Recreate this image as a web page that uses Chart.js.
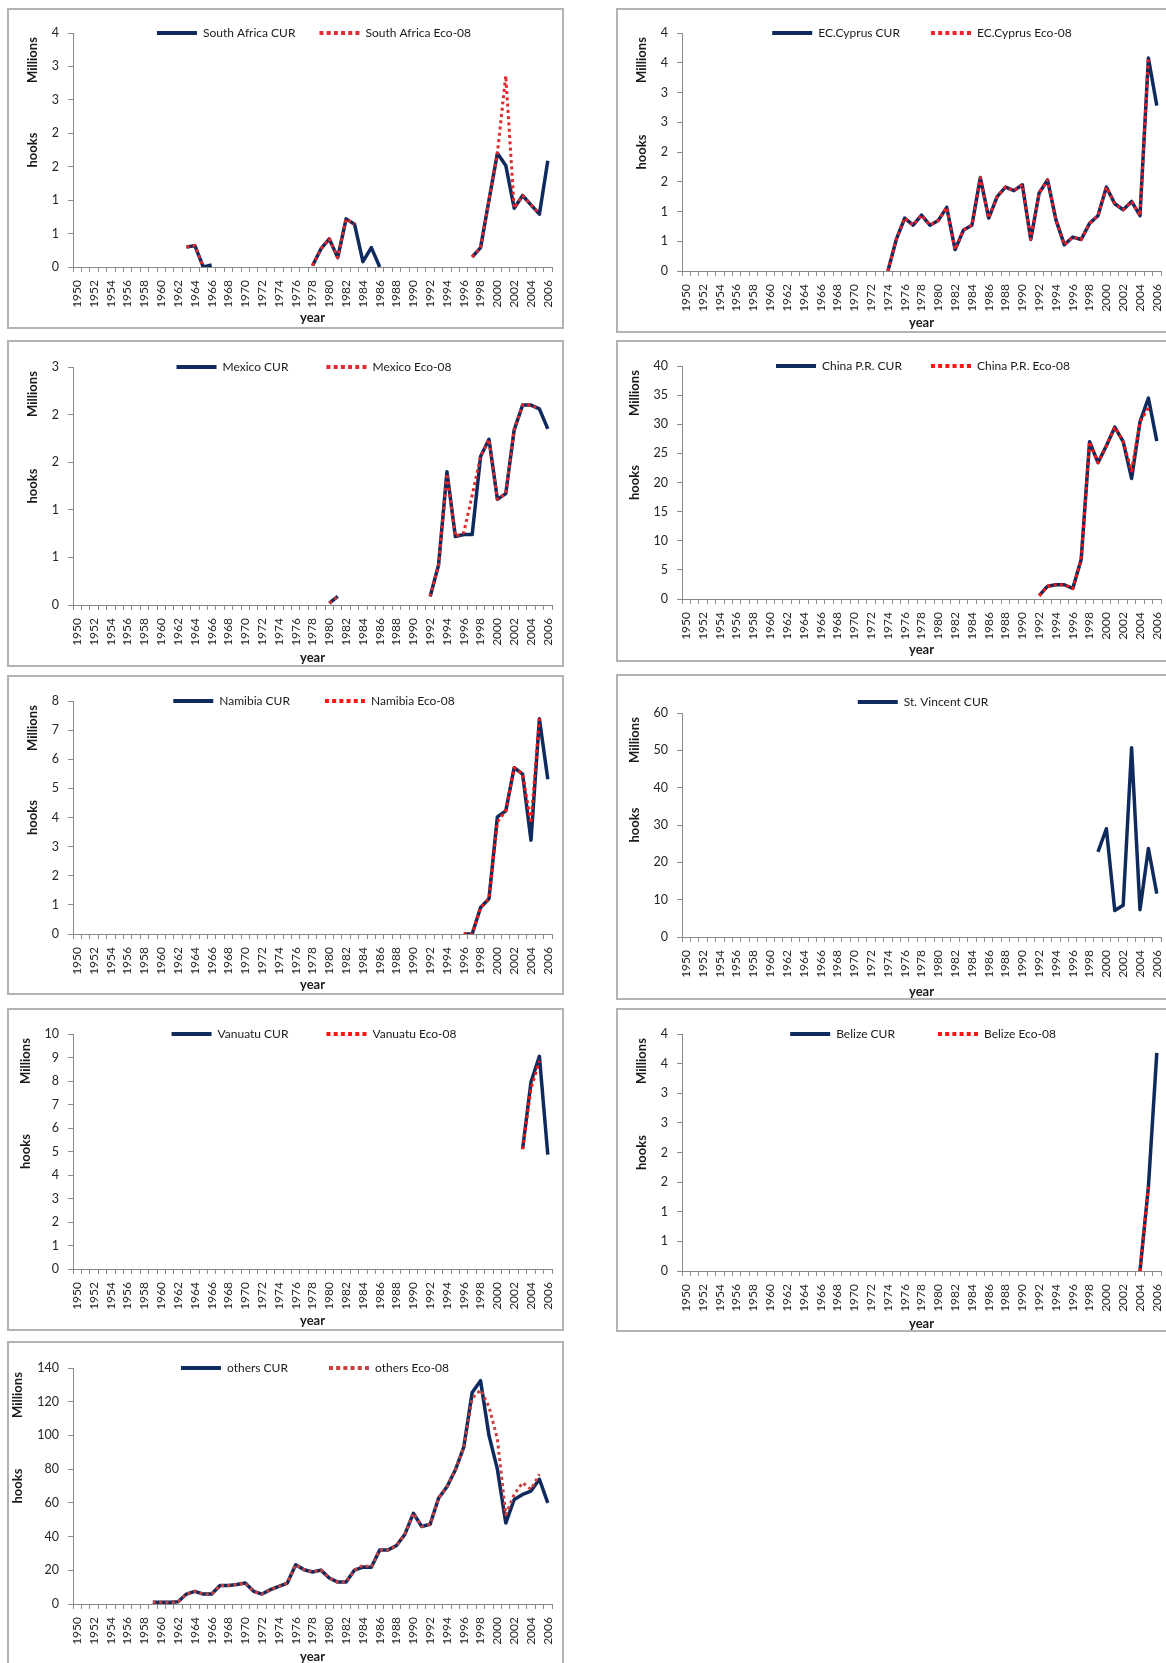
<!DOCTYPE html>
<html>
<head>
<meta charset="utf-8">
<script src="https://cdn.jsdelivr.net/npm/chart.js@4.4.1/dist/chart.umd.min.js"></script>
<style>
html,body{margin:0;padding:0;background:#fff;width:1166px;height:1663px;overflow:hidden;position:relative;}
.panel{position:absolute;background:#fff;}
.panel canvas{position:absolute;left:0;top:0;}
.frame{position:absolute;left:0;top:0;right:0;bottom:0;border:2px solid #B3B3B3;box-sizing:border-box;pointer-events:none;}
</style>
</head>
<body>
<script>
// ---------------- DATA (values in millions of hooks) ----------------
const years = [1950,1951,1952,1953,1954,1955,1956,1957,1958,1959,1960,1961,1962,1963,1964,1965,1966,1967,1968,1969,
  1970,1971,1972,1973,1974,1975,1976,1977,1978,1979,1980,1981,1982,1983,1984,1985,1986,1987,1988,1989,
  1990,1991,1992,1993,1994,1995,1996,1997,1998,1999,2000,2001,2002,2003,2004,2005,2006];

// South Africa (first value = 1963)
const southAfricaStart = 1963;
const southAfricaCUR = [0.30,0.32,0.00,0.03, null,null,null,null,null,null,null,null,null,null,null,
  0.02,0.27,0.42,0.14,0.72,0.64,0.08,0.29,0.00, null,null,null,null,null,null,null,null,null,null,
  0.15,0.29,1.00,1.70,1.52,0.88,1.07,0.93,0.79,1.59];
const southAfricaEco = [0.30,0.32,0.00, null,null,null,null,null,null,null,null,null,null,null,null,
  0.02,0.27,0.42,0.14,0.72,0.64, null,null,null,null,null,null,null,null,null,null,null,null,null,
  0.15,0.29,1.00,1.70,2.86,0.88,1.07,0.93,0.79];

// EC.Cyprus (first value = 1974)
const cyprusStart = 1974;
const cyprusCUR = [0.00,0.53,0.89,0.77,0.94,0.77,0.85,1.07,0.36,0.69,0.77,1.57,0.89,1.25,1.41,1.35,1.45,
  0.53,1.31,1.53,0.86,0.44,0.57,0.53,0.80,0.93,1.41,1.13,1.03,1.17,0.93,3.58,2.78];
const cyprusEco = [0.00,0.53,0.89,0.77,0.94,0.77,0.85,1.07,0.36,0.69,0.77,1.57,0.89,1.25,1.41,1.35,1.45,
  0.53,1.31,1.53,0.86,0.44,0.57,0.53,0.80,0.93,1.41,1.13,1.03,1.17,0.93,3.58];

// Mexico (first value = 1980)
const mexicoStart = 1980;
const mexicoCUR = [0.02,0.09, null,null,null,null,null,null,null,null,null,null,
  0.09,0.42,1.40,0.72,0.74,0.74,1.56,1.74,1.11,1.17,1.84,2.10,2.10,2.06,1.85];
const mexicoEco = [0.02,0.09, null,null,null,null,null,null,null,null,null,null,
  0.09,0.42,1.38,0.72,0.76,1.15,1.56,1.74,1.11,1.17,1.84,2.10,2.10,2.06];

// China P.R. (first value = 1992)
const chinaStart = 1992;
const chinaCUR = [0.57,2.2,2.45,2.45,1.8,6.8,27.0,23.4,26.3,29.5,27.0,20.7,30.4,34.5,27.1];
const chinaEco = [0.57,2.2,2.45,2.45,1.8,6.8,27.0,23.4,26.3,29.5,27.0,22.0,30.4,32.8];

// Namibia (first value = 1996)
const namibiaStart = 1996;
const namibiaCUR = [0.00,0.00,0.91,1.21,4.02,4.23,5.71,5.49,3.22,7.39,5.31];
const namibiaEco = [0.00,0.00,0.91,1.21,3.85,4.23,5.71,5.49,3.80,7.40];

// St. Vincent (first value = 1999)
const stVincentStart = 1999;
const stVincentCUR = [22.8,29.0,7.1,8.5,50.7,7.3,23.7,11.6];

// Vanuatu (first value = 2003)
const vanuatuStart = 2003;
const vanuatuCUR = [5.10,7.96,9.05,4.87];
const vanuatuEco = [5.10,7.70,8.85];

// Belize (first value = 2004)
const belizeStart = 2004;
const belizeCUR = [0.00,1.42,3.68];
const belizeEco = [0.00,1.42];

// others (first value = 1959)
const othersStart = 1959;
const othersCUR = [1.0,1.0,1.0,1.3,5.9,7.5,5.9,5.9,11.0,11.0,11.6,12.4,7.5,5.9,8.5,10.5,12.4,
  23.3,20.3,19.0,20.1,15.4,13.0,13.0,20.1,21.9,21.8,32.1,32.1,34.7,41.4,53.8,46.0,47.3,62.7,69.6,79.5,
  93.0,125.5,132.5,100.0,80.0,48.0,62.0,65.0,67.0,74.0,60.0];
const othersEco = [1.0,1.0,1.0,1.3,5.9,7.5,5.9,5.9,11.0,11.0,11.6,12.4,7.5,5.9,8.5,10.5,12.4,
  23.3,20.3,19.0,20.1,15.4,13.0,13.0,20.1,23.0,21.8,32.1,32.1,34.7,41.4,53.8,46.0,47.3,62.7,69.6,79.5,
  93.0,122.0,127.0,117.0,98.0,53.0,65.0,72.0,68.0,77.0];

// y-axis ranges (millions)
const yMax = { sa: 3.5, cy: 4, mx: 2.5, cn: 40, na: 8, sv: 60, va: 10, bz: 4, ot: 140 };
const yStep = { sa: 0.5, cy: 0.5, mx: 0.5, cn: 5, na: 1, sv: 10, va: 1, bz: 0.5, ot: 20 };

// ---------------- helpers ----------------
function alignSeries(start, values) {
  const out = years.map(() => null);
  const off = years.indexOf(start);
  values.forEach((v, i) => { out[off + i] = v; });
  return out;
}

const NAVY = '#0F2A5C';
const FONT = 'Lato, "Open Sans", sans-serif';

const panelDecor = {
  id: 'panelDecor',
  beforeUpdate(chart) {
    const lg = chart.legend;
    if (lg && !lg._forcedRow) {
      lg.isHorizontal = function () { return true; };
      lg._forcedRow = true;
    }
  },
  afterLayout(chart, args, o) {
    const lg = chart.legend;
    if (!lg) return;
    const w = lg.right - lg.left, h = lg.bottom - lg.top;
    const pad = lg.options.labels.padding;
    const fs = lg.options.labels.font.size;
    lg.left = o.legendX - w / 2; lg.right = o.legendX + w / 2;
    lg.top = o.legendY - pad - fs / 2; lg.bottom = lg.top + h;
  },
  afterDraw(chart, args, o) {
    const ctx = chart.ctx, a = chart.chartArea, ys = chart.scales.y;
    ctx.save();
    ctx.font = '12.5px ' + FONT;
    let mw = 0;
    ys.ticks.forEach(t => { mw = Math.max(mw, ctx.measureText(String(Math.round(t.value))).width); });
    const x = a.left - 5 - 9 - mw - 19;
    ctx.font = 'bold 13px ' + FONT;
    ctx.fillStyle = '#1a1a1a';
    ctx.textAlign = 'center';
    ctx.textBaseline = 'middle';
    [[o.unit, a.top + 27], [o.title, (a.top + a.bottom) / 2]].forEach(([txt, y]) => {
      ctx.save(); ctx.translate(x, y); ctx.rotate(-Math.PI / 2); ctx.fillText(txt, 0, 0); ctx.restore();
    });
    ctx.restore();
  }
};

function legendLabels(chart) {
  const items = Chart.defaults.plugins.legend.labels.generateLabels(chart);
  items.forEach(it => {
    const isEco = /Eco-08$/.test(it.text);
    it.lineWidth = 4;
    it.lineDash = isEco ? [4, 3.2] : [];
    it.lineCap = 'butt';
  });
  return items;
}

// ---------------- panels ----------------
// box: [left, top, width, height]; plot: [left, top, right, bottom] (page px)
const panels = [
  { key: 'sa', box: [7, 8, 557, 321], plot: [73, 33, 552, 267], legendX: 314, legendY: 33, yearY: 318, gap: 24,
    series: [['South Africa CUR', southAfricaStart, southAfricaCUR, null], ['South Africa Eco-08', southAfricaStart, southAfricaEco, '#E02A2E']] },
  { key: 'cy', box: [616, 8, 557, 325], plot: [682, 33, 1161, 271], legendX: 922, legendY: 33, yearY: 323, gap: 31,
    series: [['EC.Cyprus CUR', cyprusStart, cyprusCUR, null], ['EC.Cyprus Eco-08', cyprusStart, cyprusEco, '#F0202A']] },
  { key: 'mx', box: [7, 340, 557, 327], plot: [73, 367, 552, 605], legendX: 314, legendY: 367, yearY: 658, gap: 38,
    series: [['Mexico CUR', mexicoStart, mexicoCUR, null], ['Mexico Eco-08', mexicoStart, mexicoEco, '#E02A2E']] },
  { key: 'cn', box: [616, 340, 557, 322], plot: [682, 366, 1161, 599], legendX: 923, legendY: 366, yearY: 650, gap: 29,
    series: [['China P.R. CUR', chinaStart, chinaCUR, null], ['China P.R. Eco-08', chinaStart, chinaEco, '#FF1414']] },
  { key: 'na', box: [7, 675, 557, 320], plot: [73, 701, 552, 934], legendX: 314, legendY: 701, yearY: 985, gap: 35,
    series: [['Namibia CUR', namibiaStart, namibiaCUR, null], ['Namibia Eco-08', namibiaStart, namibiaEco, '#FF1414']] },
  { key: 'sv', box: [616, 674, 557, 326], plot: [682, 713, 1161, 937], legendX: 923, legendY: 702, yearY: 992, gap: 30,
    series: [['St. Vincent CUR', stVincentStart, stVincentCUR, null]] },
  { key: 'va', box: [7, 1008, 557, 323], plot: [73, 1034, 552, 1269], legendX: 314, legendY: 1034, yearY: 1321, gap: 38,
    series: [['Vanuatu CUR', vanuatuStart, vanuatuCUR, null], ['Vanuatu Eco-08', vanuatuStart, vanuatuEco, '#FF1414']] },
  { key: 'bz', box: [616, 1008, 557, 324], plot: [682, 1034, 1161, 1271], legendX: 923, legendY: 1034, yearY: 1324, gap: 43,
    series: [['Belize CUR', belizeStart, belizeCUR, null], ['Belize Eco-08', belizeStart, belizeEco, '#FF1414']] },
  { key: 'ot', box: [7, 1341, 557, 327], plot: [73, 1368, 552, 1604], legendX: 315, legendY: 1368, yearY: 1657, gap: 41,
    series: [['others CUR', othersStart, othersCUR, null], ['others Eco-08', othersStart, othersEco, '#C8403F']] }
];

function build(p) {
  const [L, T, W, H] = p.box;
  const [PL, PT, PR, PB] = p.plot;
  const div = document.createElement('div');
  div.className = 'panel';
  div.style.left = L + 'px'; div.style.top = T + 'px';
  div.style.width = W + 'px'; div.style.height = H + 'px';
  const cv = document.createElement('canvas');
  cv.width = W; cv.height = H;
  cv.style.width = W + 'px'; cv.style.height = H + 'px';
  div.appendChild(cv);
  const fr = document.createElement('div'); fr.className = 'frame'; div.appendChild(fr);
  document.body.appendChild(div);

  const yW = 40;
  const xH = T + H - PB;
  const titleLH = 13 * 1.2;
  const titlePadBottom = Math.max(0, (T + H - p.yearY) - titleLH / 2);

  const datasets = p.series.map((s) => {
    const isEco = !!s[3];
    return {
      label: s[0],
      data: alignSeries(s[1], s[2]),
      borderColor: isEco ? s[3] : NAVY,
      backgroundColor: isEco ? s[3] : NAVY,
      borderWidth: isEco ? 3 : 3.5,
      borderDash: isEco ? [3, 3.3] : [],
      borderJoinStyle: 'round',
      borderCapStyle: 'butt',
      pointRadius: 0,
      pointHoverRadius: 0,
      tension: 0,
      spanGaps: false,
      order: isEco ? 0 : 1
    };
  });

  new Chart(cv, {
    type: 'line',
    data: { labels: years.map(String), datasets },
    plugins: [panelDecor],
    options: {
      responsive: false,
      animation: false,
      devicePixelRatio: 1,
      layout: { padding: { left: PL - L - yW, right: L + W - PR, top: PT - T, bottom: 0 } },
      plugins: {
        tooltip: { enabled: false },
        legend: {
          position: 'chartArea',
          align: 'center',
          labels: {
            usePointStyle: true,
            pointStyle: 'line',
            pointStyleWidth: 40,
            padding: p.gap,
            color: '#1a1a1a',
            font: { family: FONT, size: 12 },
            generateLabels: legendLabels,
            sort: (a, b) => a.datasetIndex - b.datasetIndex
          }
        },
        panelDecor: { legendX: p.legendX - L, legendY: p.legendY - T, unit: 'Millions', title: 'hooks' }
      },
      scales: {
        x: {
          type: 'category',
          offset: true,
          afterFit: (s) => { s.height = xH; s.paddingLeft = 0; s.paddingRight = 0; },
          grid: { display: true, drawOnChartArea: false, drawTicks: true, tickLength: 5, color: '#8A8A8A', offset: true },
          border: { display: true, color: '#8A8A8A', width: 1 },
          ticks: {
            autoSkip: false, maxRotation: 90, minRotation: 90, padding: 8,
            color: '#262626', font: { family: FONT, size: 12 },
            callback: (v, i) => (i % 2 === 0 ? String(years[i]) : '')
          },
          title: { display: true, text: 'year', color: '#1a1a1a', font: { family: FONT, size: 13, weight: 'bold' },
                   padding: { top: 0, bottom: titlePadBottom } }
        },
        y: {
          min: 0, max: yMax[p.key],
          afterFit: (s) => { s.width = yW; s.paddingTop = 0; s.paddingBottom = 0; },
          grid: { display: true, drawOnChartArea: false, drawTicks: true, tickLength: 5, color: '#8A8A8A' },
          border: { display: true, color: '#8A8A8A', width: 1 },
          ticks: {
            stepSize: yStep[p.key], padding: 9, color: '#262626', font: { family: FONT, size: 12.5 },
            callback: (v) => String(Math.round(v))
          }
        }
      }
    }
  });
}

function go() { panels.forEach(build); }
const fontLoads = [document.fonts.load('12px Lato'), document.fonts.load('bold 13px Lato')];
Promise.race([Promise.all(fontLoads), new Promise(r => setTimeout(r, 1500))]).then(go, go);
</script>
</body>
</html>
